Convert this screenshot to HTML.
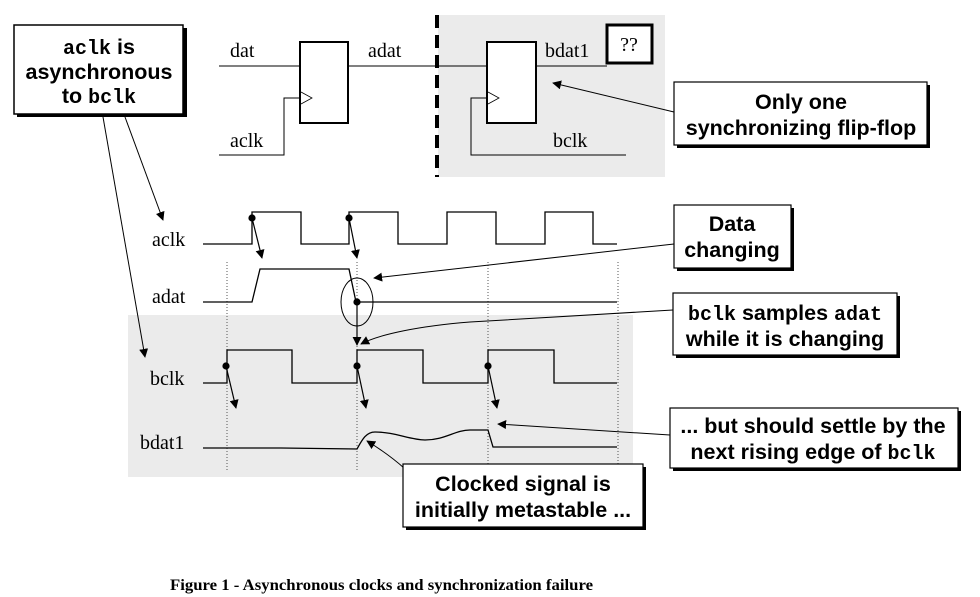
<!DOCTYPE html>
<html><head><meta charset="utf-8"><style>
html,body{margin:0;padding:0;background:#fff;}
svg{display:block}
.s{font-family:"Liberation Serif",serif;font-size:20px;fill:#000}
.b{font-family:"Liberation Sans",sans-serif;font-weight:bold;font-size:21.5px;fill:#000}
.m{font-family:"Liberation Mono",monospace;font-weight:bold;font-size:20px;fill:#000}
</style></head><body>
<svg width="980" height="597" viewBox="0 0 980 597" xmlns="http://www.w3.org/2000/svg">
<defs>
<marker id="a" viewBox="0 0 10 10" refX="9" refY="5" markerWidth="9" markerHeight="9" orient="auto" markerUnits="userSpaceOnUse"><path d="M0,0 L10,5 L0,10 z" fill="#000"/></marker>
</defs>
<rect x="438" y="15" width="227" height="162" fill="#ebebeb"/>
<rect x="128" y="315" width="505" height="162" fill="#ebebeb"/>
<line x1="437" y1="15" x2="437" y2="177" stroke="#000" stroke-width="4" stroke-dasharray="13,7"/>

<rect x="17" y="28" width="170" height="89" fill="#000"/>
<rect x="14" y="25" width="169" height="89" fill="#fff" stroke="#000" stroke-width="1.5"/>
<text x="99" y="54" text-anchor="middle"><tspan class="m">aclk</tspan><tspan class="b"> is</tspan></text>
<text x="99" y="79" text-anchor="middle" class="b">asynchronous</text>
<text x="99" y="103" text-anchor="middle"><tspan class="b">to </tspan><tspan class="m">bclk</tspan></text>
<line x1="103" y1="117" x2="145" y2="357" stroke="#000" marker-end="url(#a)"/>
<line x1="125" y1="117" x2="163" y2="220" stroke="#000" marker-end="url(#a)"/>

<text x="230" y="57" class="s">dat</text>
<line x1="219" y1="66" x2="300" y2="66" stroke="#000"/>
<rect x="300" y="42" width="48" height="81" fill="#fff" stroke="#000" stroke-width="2"/>
<path d="M301,92 L312,98 L301,104" fill="none" stroke="#000" stroke-width="0.8"/>
<path d="M219,155 H284 V98 H300" fill="none" stroke="#000"/>
<text x="230" y="147" class="s">aclk</text>
<text x="368" y="57" class="s">adat</text>
<line x1="348" y1="66" x2="487" y2="66" stroke="#000"/>
<rect x="487" y="42" width="49" height="81" fill="#fff" stroke="#000" stroke-width="2"/>
<path d="M488,92 L499,98 L488,104" fill="none" stroke="#000" stroke-width="0.8"/>
<path d="M487,98 H471 V155 H626" fill="none" stroke="#000"/>
<text x="553" y="147" class="s">bclk</text>
<text x="545" y="57" class="s">bdat1</text>
<line x1="536" y1="66" x2="607" y2="66" stroke="#000"/>
<rect x="607" y="25" width="45" height="38" fill="#fff" stroke="#000" stroke-width="3"/>
<text x="629" y="51" text-anchor="middle" class="s">??</text>

<rect x="677" y="85" width="253" height="63" fill="#000"/>
<rect x="674" y="82" width="253" height="63" fill="#fff" stroke="#000" stroke-width="1.2"/>
<text x="801" y="109" text-anchor="middle" class="b">Only one</text>
<text x="801" y="135" text-anchor="middle" class="b">synchronizing flip-flop</text>
<line x1="674" y1="112" x2="553" y2="83" stroke="#000" marker-end="url(#a)"/>

<text x="152" y="246" class="s">aclk</text>
<text x="152" y="303" class="s">adat</text>
<text x="150" y="385" class="s">bclk</text>
<text x="140" y="449" class="s">bdat1</text>

<g stroke="#555" stroke-width="1" stroke-dasharray="1,2">
<line x1="227" y1="262" x2="227" y2="470"/>
<line x1="357" y1="262" x2="357" y2="470"/>
<line x1="488" y1="262" x2="488" y2="470"/>
<line x1="618" y1="262" x2="618" y2="470"/>
</g>

<g fill="none" stroke="#000" stroke-width="1.3">
<path d="M203,244 H252 V212 H301 V244 H349 V212 H398 V244 H447 V212 H496 V244 H545 V212 H593 V244 H617"/>
<path d="M203,302 H252 L260,269 H349 L356,302 H617"/>
<path d="M203,383 H227 V350 H292 V383 H357 V350 H423 V383 H488 V350 H554 V383 H617"/>
<path d="M203,448 H281 L357,449 C362,440 366,432 375,432 C395,432 410,440 425,440 C445,440 455,430 470,430 H488 L493,447 H617 "/>
</g>
<ellipse cx="357" cy="302" rx="16" ry="24" fill="none" stroke="#000"/>

<g stroke="#000" stroke-width="1.2" fill="#000">
<circle cx="252" cy="218" r="3"/><line x1="252" y1="218" x2="262" y2="258" marker-end="url(#a)"/>
<circle cx="349" cy="218" r="3"/><line x1="349" y1="218" x2="357" y2="258" marker-end="url(#a)"/>
<circle cx="357" cy="302" r="3"/><line x1="357" y1="302" x2="357" y2="345" marker-end="url(#a)"/>
<circle cx="226" cy="366" r="3"/><line x1="226" y1="366" x2="236" y2="408" marker-end="url(#a)"/>
<circle cx="357" cy="366" r="3"/><line x1="357" y1="366" x2="366" y2="408" marker-end="url(#a)"/>
<circle cx="488" cy="366" r="3"/><line x1="488" y1="366" x2="497" y2="408" marker-end="url(#a)"/>
</g>

<rect x="677" y="208" width="117" height="63" fill="#000"/>
<rect x="674" y="205" width="117" height="63" fill="#fff" stroke="#000" stroke-width="1.2"/>
<text x="732" y="231" text-anchor="middle" class="b">Data</text>
<text x="732" y="257" text-anchor="middle" class="b">changing</text>
<line x1="674" y1="244" x2="374" y2="278" stroke="#000" marker-end="url(#a)"/>

<rect x="676" y="296" width="224" height="62" fill="#000"/>
<rect x="673" y="293" width="224" height="62" fill="#fff" stroke="#000" stroke-width="1.2"/>
<text x="785" y="320" text-anchor="middle"><tspan class="m">bclk</tspan><tspan class="b"> samples </tspan><tspan class="m">adat</tspan></text>
<text x="785" y="346" text-anchor="middle" class="b">while it is changing</text>
<path d="M673,310 L470,322 C420,326 380,334 361,344" fill="none" stroke="#000" marker-end="url(#a)"/>

<rect x="673" y="411" width="288" height="60" fill="#000"/>
<rect x="670" y="408" width="288" height="60" fill="#fff" stroke="#000" stroke-width="1.2"/>
<text x="813" y="433" text-anchor="middle" class="b">... but should settle by the</text>
<text x="813" y="459" text-anchor="middle"><tspan class="b">next rising edge of </tspan><tspan class="m">bclk</tspan></text>
<line x1="670" y1="435" x2="498" y2="424" stroke="#000" marker-end="url(#a)"/>

<path d="M404,468 C395,460 385,452 367,441" fill="none" stroke="#000" marker-end="url(#a)"/>
<rect x="406" y="467" width="240" height="63" fill="#000"/>
<rect x="403" y="464" width="240" height="63" fill="#fff" stroke="#000" stroke-width="1.2"/>
<text x="523" y="491" text-anchor="middle" class="b">Clocked signal is</text>
<text x="523" y="517" text-anchor="middle" class="b">initially metastable ...</text>

<text x="170" y="590" font-family="Liberation Serif,serif" font-weight="bold" font-size="16" textLength="423" lengthAdjust="spacingAndGlyphs">Figure 1 - Asynchronous clocks and synchronization failure</text>
</svg>
</body></html>
